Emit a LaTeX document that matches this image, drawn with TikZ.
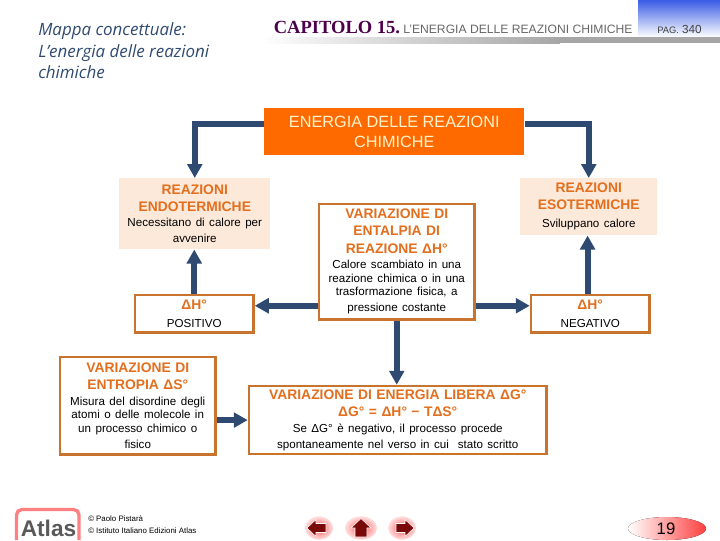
\documentclass[tikz,border=0pt]{standalone}
\usepackage{fontspec}
\setmainfont{Liberation Sans}
\newfontfamily\titlefont{Open Sans}
\newfontfamily\capfont{Liberation Serif}
\usetikzlibrary{arrows.meta,shapes.geometric,shadings}
\definecolor{navy}{HTML}{2F4A70}
\definecolor{rust}{HTML}{C8742E}
\definecolor{ocra}{HTML}{E36F1E}
\definecolor{pale}{HTML}{FCE9DA}
\definecolor{mattone}{HTML}{FF6A00}
\definecolor{crema}{HTML}{FFF2CC}
\definecolor{scuro}{HTML}{7A0A0A}
\definecolor{azzurro}{HTML}{3A5CE6}
\newcommand{\testa}[1]{{\fontsize{10.4}{12.8}\selectfont\bfseries\color{ocra}#1\par}\vspace{1.5pt}}
\newcommand{\corpo}{\fontsize{8.7}{10.2}\selectfont}
\tikzset{
  box/.style={draw=rust,line width=2pt,fill=white,inner sep=0pt,align=center,anchor=north west},
  palebox/.style={fill=pale,inner sep=0pt,align=center,anchor=north west},
  flow/.style={draw=navy,line width=4.5pt,-{Triangle[length=10.5pt,width=11pt]}},
  navbtn/.style={ellipse,inner sep=0pt,inner color=red!65!white,outer color=red!12!white,minimum height=17.5pt},
  navarrow/.style={fill=scuro,draw=white,line width=0.4pt},
  credit/.style={anchor=west,inner sep=0pt,font=\fontsize{5.9}{7}\selectfont}
}
\begin{document}
\begin{tikzpicture}[x=0.75pt,y=-0.75pt,line join=miter]
\useasboundingbox (0,0) rectangle (720,540);
\fill[top color=azzurro,bottom color=white] (638,0) rectangle (720,37);
\fill[left color=white,right color=black!35] (260,37) rectangle (560,43);
\fill[black!35] (560,37) rectangle (720,43);
\node[anchor=west,align=left,inner sep=0pt,text=navy,font=\titlefont\itshape\fontsize{12.7}{16.1}\selectfont] (titolo) at (38,51) {Mappa concettuale:\\L’energia delle reazioni\\chimiche};
\node[anchor=base west,inner sep=0pt,font=\capfont\bfseries\fontsize{13.9}{14}\selectfont,text=violet!60!black] (capitolo) at (273.5,33.5) {CAPITOLO 15.};
\node[anchor=base west,inner sep=0pt,font=\fontsize{9.1}{11}\selectfont,text=black!60] (sezione) at (403,33.5) {L’ENERGIA DELLE REAZIONI CHIMICHE};
\node[anchor=base west,inner sep=0pt,font=\fontsize{8.8}{10}\selectfont,text=black!75] (pagina) at (657,33.5) {{\fontsize{7}{8}\selectfont PAG.} 340};
\node[anchor=north west,fill=mattone,inner sep=0pt,minimum width=195pt,minimum height=35.25pt,align=center,text=crema,font=\fontsize{12.2}{14.6}\selectfont] (energia) at (264,108) {ENERGIA DELLE REAZIONI\\CHIMICHE};
\node[palebox,text width=113.25pt,minimum height=53.25pt] (endo) at (119,178) {\testa{REAZIONI\\ENDOTERMICHE}\corpo Necessitano di calore per\\avvenire};
\node[palebox,text width=102.75pt,minimum height=42.75pt] (eso) at (520,178) {\testa{REAZIONI\\ESOTERMICHE}\corpo Sviluppano calore};
\node[box,text width=116.5pt,minimum height=86.5pt] (entalpia) at (317.75,202.75) {\testa{VARIAZIONE DI\\ENTALPIA DI\\REAZIONE ΔH°}\corpo Calore scambiato in una\\reazione chimica o in una\\trasformazione fisica, a\\pressione costante};
\node[box,text width=88.75pt,minimum height=28pt] (positivo) at (133.75,293.75) {\testa{ΔH°}\corpo POSITIVO};
\node[box,text width=88.75pt,minimum height=28pt] (negativo) at (529.75,293.75) {\testa{ΔH°}\corpo NEGATIVO};
\node[box,text width=116.5pt,minimum height=73pt] (entropia) at (58.75,355.75) {\testa{VARIAZIONE DI\\ENTROPIA ΔS°}\corpo Misura del disordine degli\\atomi o delle molecole in\\un processo chimico o\\fisico};
\node[box,text width=223pt,minimum height=51pt] (libera) at (247.75,384.75) {\testa{VARIAZIONE DI ENERGIA LIBERA ΔG°\\ΔG° = ΔH° − TΔS°}\corpo Se ΔG° è negativo, il processo procede\\spontaneamente nel verso in cui \ stato scritto};
\coordinate (posin) at ([yshift=6pt]positivo.east);
\coordinate (negin) at ([yshift=6pt]negativo.west);
\coordinate (negup) at ([xshift=-2pt]negativo.north);
\draw[flow] (energia.west |- 0,124) -| (endo.north);
\draw[flow] (energia.east |- 0,124) -| (eso.north);
\draw[flow] (positivo.north) -- (positivo.north |- endo.south);
\draw[flow] (negup) -- (negup |- eso.south);
\draw[flow] (entalpia.west |- posin) -- (posin);
\draw[flow] (entalpia.east |- negin) -- (negin);
\draw[flow] (entalpia.south) -- (entalpia.south |- libera.north);
\draw[flow] (entropia.east |- libera.west) -- (libera.west);
\draw[red!50!white,line width=2.5pt,rounded corners=4pt] (16.5,540) -- (16.5,509.5) -- (79,509.5) -- (79,540);
\node[anchor=base,inner sep=0pt,font=\bfseries\fontsize{17}{17}\selectfont,text=black!65] (atlas) at (48.5,536) {Atlas};
\node[credit] (credito) at (88,519) {© Paolo Pistarà};
\node[credit] (editore) at (88,531) {© Istituto Italiano Edizioni Atlas};
\node[navbtn,minimum width=21pt] (indietro) at (319,528) {};
\node[navbtn,minimum width=24pt] (home) at (361,528) {};
\node[navbtn,minimum width=21pt] (avanti) at (402,528) {};
\draw[navarrow] (307,528) -- (316,519.5) -- (316,523.5) -- (326,523.5) -- (326,532.5) -- (316,532.5) -- (316,536.5) -- cycle;
\draw[navarrow] (361,518.5) -- (371,528) -- (367,528) -- (367,537) -- (355,537) -- (355,528) -- (351,528) -- cycle;
\draw[navarrow] (414,528) -- (405,519.5) -- (405,523.5) -- (396,523.5) -- (396,532.5) -- (405,532.5) -- (405,536.5) -- cycle;
\fill[left color=white,right color=red!75!white] (667,528.5) ellipse (39 and 11.5);
\node[inner sep=0pt,font=\fontsize{12.5}{14}\selectfont] (numero) at (666,528.5) {19};
\end{tikzpicture}
\end{document}
